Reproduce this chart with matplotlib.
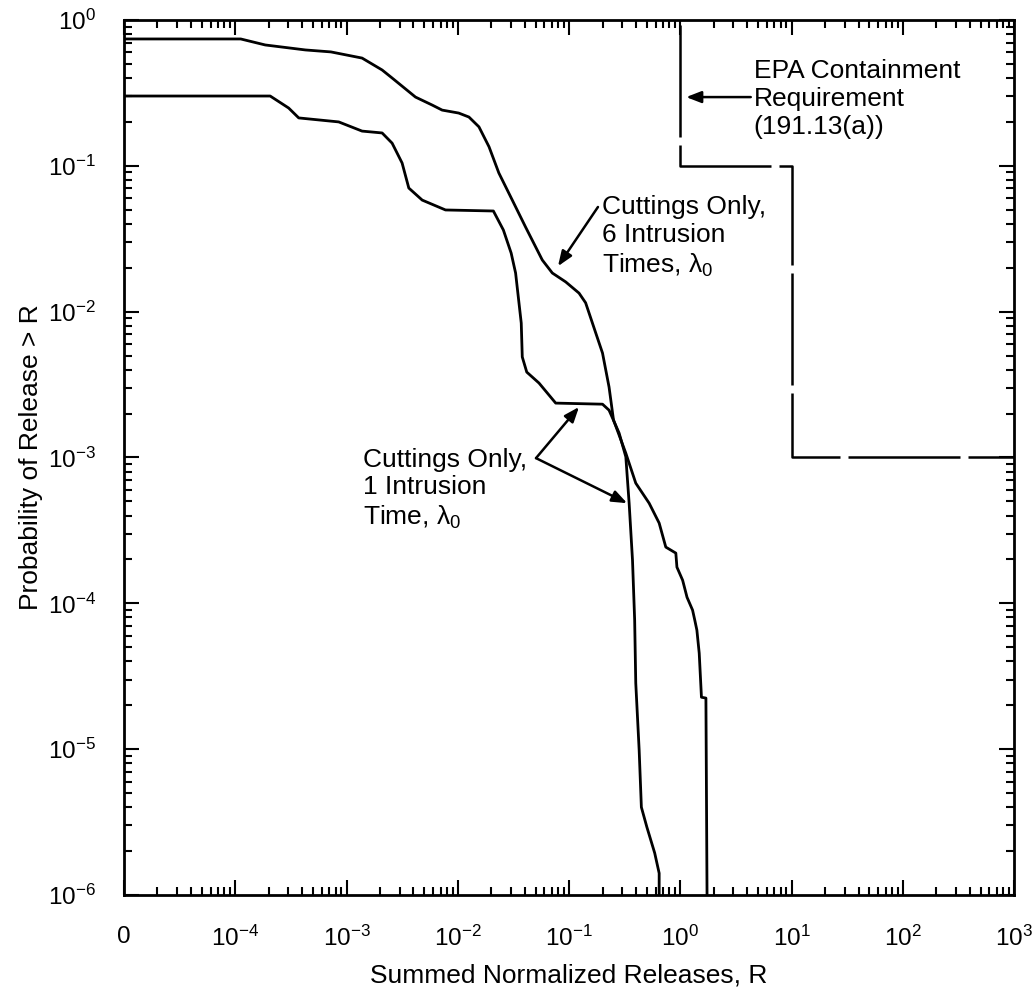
import matplotlib
matplotlib.use("Agg")
import matplotlib.pyplot as plt

plt.rcParams["font.family"] = ["Liberation Sans", "DejaVu Sans"]
plt.rcParams["mathtext.fontset"] = "custom"
plt.rcParams["mathtext.rm"] = "Liberation Sans"
plt.rcParams["mathtext.it"] = "Liberation Sans"
plt.rcParams["mathtext.default"] = "regular"

# CCDF, cuttings only, 6 intrusion times
six_x = [1e-5, 1.12e-4, 1.86e-4, 4.27e-4, 7.24e-4, 1.38e-3, 2.09e-3, 2.57e-3,
         4.17e-3, 5.89e-3, 7.24e-3, 1.02e-2, 1.26e-2, 1.55e-2, 1.91e-2, 2.34e-2,
         3.09e-2, 4.07e-2, 5.75e-2, 7.08e-2, 9.33e-2, 0.123, 0.141, 0.174,
         0.200, 0.229, 0.251, 0.324, 0.398, 0.525, 0.646, 0.741, 0.912, 0.933,
         1.05, 1.15, 1.29, 1.35, 1.41, 1.48, 1.55, 1.70, 1.74]
six_y = [0.741, 0.741, 0.674, 0.623, 0.604, 0.548, 0.454, 0.40,
         0.296, 0.261, 0.241, 0.230, 0.216, 0.185, 0.135, 0.0893,
         0.0582, 0.038, 0.0226, 0.0184, 0.0160, 0.0134, 0.0115, 0.00713,
         0.0052, 0.00304, 0.00181, 0.00107, 6.67e-4, 4.86e-4, 3.55e-4, 2.43e-4, 2.21e-4, 1.77e-4,
         1.44e-4, 1.10e-4, 8.98e-5, 7.67e-5, 6.55e-5, 4.55e-5, 2.27e-5, 2.24e-5, 1e-6]

# CCDF, cuttings only, 1 intrusion time
one_x = [1e-5, 2.06e-4, 3.02e-4, 3.72e-4, 8.51e-4, 1.38e-3, 2.09e-3, 2.57e-3,
         3.16e-3, 3.63e-3, 4.79e-3, 7.76e-3, 2.09e-2, 2.57e-2, 3.02e-2, 3.31e-2,
         3.72e-2, 3.80e-2, 4.17e-2, 5.37e-2, 7.59e-2, 0.200, 0.229, 0.282,
         0.324, 0.347, 0.372, 0.389, 0.398, 0.427, 0.447, 0.501, 0.589, 0.646, 0.646]
one_y = [0.301, 0.301, 0.249, 0.213, 0.20, 0.173, 0.168, 0.143,
         0.1045, 0.0704, 0.0582, 0.0498, 0.049, 0.0363, 0.0252, 0.0184,
         0.00835, 0.00489, 0.00385, 0.00324, 0.00236, 0.00232, 0.00211, 0.00147,
         0.00101, 4.86e-4, 1.98e-4, 7.67e-5, 2.84e-5, 9.84e-6, 4.0e-6, 2.92e-6, 1.94e-6, 1.41e-6, 1e-6]

# EPA containment requirement (191.13(a))
epa_x = [1, 1, 10, 10, 1000]
epa_y = [1, 0.1, 0.1, 0.001, 0.001]

xticks = [1e-5, 1e-4, 1e-3, 1e-2, 1e-1, 1e0, 1e1, 1e2, 1e3]
xtick_labels = ["0", "$10^{-4}$", "$10^{-3}$", "$10^{-2}$", "$10^{-1}$",
                "$10^{0}$", "$10^{1}$", "$10^{2}$", "$10^{3}$"]
yticks = [1e-6, 1e-5, 1e-4, 1e-3, 1e-2, 1e-1, 1e0]
ytick_labels = ["$10^{-6}$", "$10^{-5}$", "$10^{-4}$", "$10^{-3}$",
                "$10^{-2}$", "$10^{-1}$", "$10^{0}$"]

fig = plt.figure(figsize=(10.36, 9.94), dpi=100)
ax = fig.add_axes([0.1197, 0.0996, 0.8591, 0.8803])

ax.plot(six_x, six_y, color="black", lw=2.0)
ax.plot(one_x, one_y, color="black", lw=2.0)
ax.plot(epa_x, epa_y, color="black", lw=1.8, linestyle=(46, (44.8, 3.2)))

ax.set_xscale("log")
ax.set_yscale("log")
ax.set_xlim(1e-5, 1e3)
ax.set_ylim(1e-6, 1e0)
ax.set_xticks(xticks)
ax.set_xticklabels(xtick_labels)
ax.set_yticks(yticks)
ax.set_yticklabels(ytick_labels)

for s in ax.spines.values():
    s.set_linewidth(2.0)
ax.tick_params(which="both", direction="in", top=True, right=True,
               labelsize=17.5, width=1.5)
ax.tick_params(axis="x", which="major", length=11, pad=22)
ax.tick_params(axis="y", which="major", length=11, pad=20)
ax.tick_params(which="minor", length=6)

ax.set_xlabel("Summed Normalized Releases, R", fontsize=19)
ax.set_ylabel("Probability of Release > R", fontsize=19)
ax.xaxis.set_label_coords(0.5, -0.078)
ax.yaxis.set_label_coords(-0.091, 0.5)

arrow = dict(arrowstyle="-|>,head_length=0.9,head_width=0.35", color="black",
             lw=1.8, shrinkA=0, shrinkB=0)

ax.text(4.57, 0.287, "EPA Containment\nRequirement\n(191.13(a))",
        fontsize=19, ha="left", va="center", linespacing=1.2)
ax.annotate("", xy=(1.13, 0.296), xytext=(4.3, 0.296), arrowprops=arrow)

ax.text(0.198, 0.0325, "Cuttings Only,\n6 Intrusion\nTimes, λ$_0$",
        fontsize=19, ha="left", va="center", linespacing=1.2)
ax.annotate("", xy=(0.0796, 0.0205), xytext=(0.182, 0.0522), arrowprops=arrow)

ax.text(1.42e-3, 6.07e-4, "Cuttings Only,\n1 Intrusion\nTime, λ$_0$",
        fontsize=19, ha="left", va="center", linespacing=1.2)
ax.annotate("", xy=(0.123, 2.22e-3), xytext=(0.0505, 9.9e-4), arrowprops=arrow)
ax.annotate("", xy=(0.333, 4.86e-4), xytext=(0.0505, 9.9e-4), arrowprops=arrow)

fig.savefig("out.png", dpi=100)
